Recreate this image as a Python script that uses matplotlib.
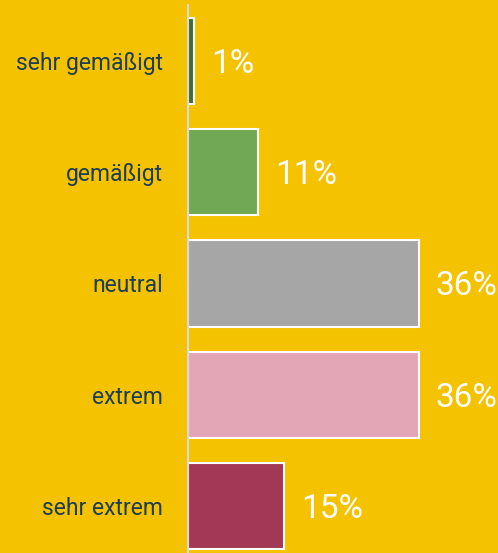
import matplotlib.pyplot as plt

plt.rcParams['font.family'] = ['Roboto', 'DejaVu Sans']

categories = ["sehr gemäßigt", "gemäßigt", "neutral", "extrem", "sehr extrem"]
values = [1, 11, 36, 36, 15]
value_labels = ["1%", "11%", "36%", "36%", "15%"]
colors = ["#3F6B35", "#70A855", "#A6A6A6", "#E3A6B7", "#A33756"]

bg = "#F5C200"

fig = plt.figure(figsize=(4.98, 5.53), dpi=100, facecolor=bg)
ax = fig.add_axes([188 / 498, 0, 1 - 188 / 498, 1 - 5 / 553])
ax.set_facecolor(bg)

ypos = list(range(len(categories)))
ax.barh(ypos, values, height=0.775, color=colors, edgecolor="white", linewidth=1.5)

# value labels right of each bar
for y, v, lab in zip(ypos, values, value_labels):
    ax.annotate(lab, (v, y), xytext=(17, -3), textcoords="offset pixels",
                va="center", ha="left", color="white", fontsize=24)

ax.set_xlim(0, 48.4)
ax.set_ylim(4.42, -0.5)
ax.set_yticks(ypos)
ax.set_yticklabels(categories, fontsize=16.5, color="#1D3D55")
ax.tick_params(axis="y", length=0, pad=18)
ax.set_xticks([])

for side in ["top", "right", "bottom"]:
    ax.spines[side].set_visible(False)
ax.spines["left"].set_color("#D9D9D9")
ax.spines["left"].set_linewidth(1.5)

fig.savefig("out.png", dpi=100, facecolor=bg)
